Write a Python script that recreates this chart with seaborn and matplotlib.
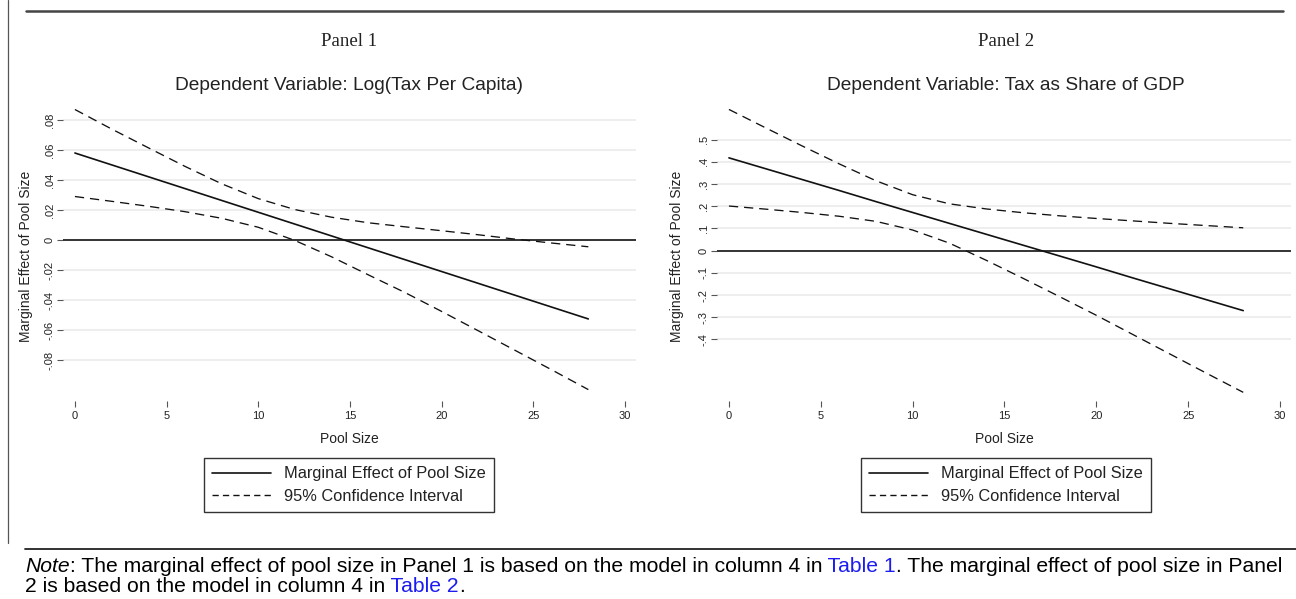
import numpy as np
import pandas as pd
import seaborn as sns
from matplotlib import pyplot as plt
from matplotlib.lines import Line2D

# values
pool_size = [0, 2, 4, 6, 8, 10, 12, 14, 16, 18, 20, 22, 24, 26, 28]

tax_pc_effect = [0.058, 0.0501, 0.0422, 0.0343, 0.0264, 0.0185, 0.0106, 0.0027,
                 -0.0052, -0.0131, -0.021, -0.0289, -0.0368, -0.0447, -0.0526]
tax_pc_upper = [0.087, 0.074, 0.0615, 0.0491, 0.0375, 0.0276, 0.0203, 0.0152,
                0.0115, 0.0088, 0.0062, 0.0035, 0.0006, -0.0020, -0.0045]
tax_pc_lower = [0.029, 0.0258, 0.0225, 0.0189, 0.0145, 0.0085, -0.0003, -0.0112,
                -0.0232, -0.0350, -0.0476, -0.0605, -0.0735, -0.0865, -0.0997]

tax_gdp_effect = [0.418, 0.369, 0.320, 0.271, 0.221, 0.172, 0.123, 0.074,
                  0.025, -0.024, -0.073, -0.123, -0.172, -0.221, -0.270]
tax_gdp_upper = [0.636, 0.553, 0.471, 0.391, 0.315, 0.252, 0.211, 0.188,
                 0.171, 0.157, 0.145, 0.134, 0.123, 0.113, 0.103]
tax_gdp_lower = [0.201, 0.187, 0.172, 0.155, 0.132, 0.093, 0.034, -0.043,
                 -0.124, -0.207, -0.291, -0.378, -0.465, -0.552, -0.638]

x_ticks = [0, 5, 10, 15, 20, 25, 30]
y_ticks_1 = [-0.08, -0.06, -0.04, -0.02, 0, 0.02, 0.04, 0.06, 0.08]
y_tick_labels_1 = ["-.08", "-.06", "-.04", "-.02", "0", ".02", ".04", ".06", ".08"]
y_ticks_2 = [-0.4, -0.3, -0.2, -0.1, 0, 0.1, 0.2, 0.3, 0.4, 0.5]
y_tick_labels_2 = ["-.4", "-.3", "-.2", "-.1", "0", ".1", ".2", ".3", ".4", ".5"]

panel_names = ["Panel 1", "Panel 2"]
dep_vars = ["Dependent Variable: Log(Tax Per Capita)",
            "Dependent Variable: Tax as Share of GDP"]

EFFECT = "Marginal Effect of Pool Size"
CI = "95% Confidence Interval"

W, H = 1296, 599


def long_frame(effect, upper, lower):
    parts = []
    for bound, vals, kind in [("effect", effect, EFFECT), ("upper", upper, CI), ("lower", lower, CI)]:
        parts.append(pd.DataFrame({"Pool Size": pool_size, "value": vals,
                                   "kind": kind, "bound": bound}))
    return pd.concat(parts, ignore_index=True)


sns.set_theme(style="white")
plt.rcParams["font.family"] = ["Liberation Sans", "DejaVu Sans"]

fig = plt.figure(figsize=(W / 100, H / 100), dpi=100)
fig.patch.set_facecolor("white")

panels = [
    dict(df=long_frame(tax_pc_effect, tax_pc_upper, tax_pc_lower), left=63, width=573,
         ylim=(-0.1073, 0.09), yticks=y_ticks_1, ylabels=y_tick_labels_1, cx=349, ylab_x=-0.064),
    dict(df=long_frame(tax_gdp_effect, tax_gdp_upper, tax_gdp_lower), left=717, width=574,
         ylim=(-0.677, 0.656), yticks=y_ticks_2, ylabels=y_tick_labels_2, cx=1006, ylab_x=-0.069),
]

ax_bottom, ax_top = 401, 105
dash_styles = {EFFECT: "", CI: (7, 4.5)}
line_widths = {EFFECT: 1.2, CI: 0.95}

for i, p in enumerate(panels):
    ax = fig.add_axes([p["left"] / W, 1 - ax_bottom / H, p["width"] / W, (ax_bottom - ax_top) / H])
    ax.set_facecolor("white")
    ax.grid(axis="y", color="#ebebeb", lw=1.2)
    ax.set_axisbelow(True)
    ax.axhline(0, color="#333333", lw=1.4, zorder=2)

    for kind in [EFFECT, CI]:
        sns.lineplot(data=p["df"][p["df"]["kind"] == kind], x="Pool Size", y="value",
                     style="kind", units="bound", estimator=None, color="#111111",
                     dashes={kind: dash_styles[kind]}, lw=line_widths[kind],
                     legend=False, ax=ax, zorder=3)

    ax.set_xlim(-0.65, 30.6)
    ax.set_ylim(*p["ylim"])
    for s in ax.spines.values():
        s.set_visible(False)

    ax.set_xticks(x_ticks)
    ax.set_xticklabels([str(t) for t in x_ticks])
    ax.set_yticks(p["yticks"])
    ax.set_yticklabels(p["ylabels"], rotation=90, va="center")
    ax.tick_params(axis="x", bottom=True, direction="out", length=4.5, width=0.8,
                   color="#555555", labelsize=8, labelcolor="#222222", pad=3)
    ax.tick_params(axis="y", left=True, direction="out", length=4, width=0.8,
                   color="#555555", labelsize=8, labelcolor="#222222", pad=2)

    ax.set_xlabel("Pool Size", fontsize=10, va="center", color="#222222")
    ax.xaxis.set_label_coords(0.5, (ax_bottom - 439) / (ax_bottom - ax_top))
    ax.set_ylabel(EFFECT, fontsize=10, va="center", color="#222222")
    ax.yaxis.set_label_coords(p["ylab_x"], 0.49)

    fig.text(p["cx"] / W, 1 - 42 / H, panel_names[i], family="Liberation Serif",
             fontsize=13.5, ha="center", va="center", color="#222222")
    fig.text(p["cx"] / W, 1 - 86 / H, dep_vars[i], fontsize=13.8,
             ha="center", va="center", color="#222222")

    handles = [Line2D([], [], color="#111111", lw=1.2),
               Line2D([], [], color="#111111", lw=1.0, dashes=(4.5, 3))]
    leg = ax.legend(handles, [EFFECT, CI], loc="center",
                    bbox_to_anchor=(p["cx"] / W, 1 - 485 / H), bbox_transform=fig.transFigure,
                    fontsize=11.8, frameon=True, fancybox=False, edgecolor="#333333",
                    framealpha=1, handlelength=3.6, handletextpad=0.8, borderpad=0.5,
                    labelspacing=0.45, borderaxespad=0)
    leg.get_frame().set_linewidth(1.0)
    for t in leg.get_texts():
        t.set_color("#222222")

# page rules around the figure
fig.add_artist(Line2D([26 / W, 1283 / W], [1 - 11 / H, 1 - 11 / H], color="#444444", lw=1.8))
fig.add_artist(Line2D([8 / W, 8 / W], [1, 1 - 543 / H], color="#555555", lw=0.9))
fig.add_artist(Line2D([25 / W, 1], [1 - 549 / H, 1 - 549 / H], color="#222222", lw=1.3))

# note underneath, with the table references in blue
note_lines = [
    (566, [("Note", "italic", "black"),
           (": The marginal effect of pool size in Panel 1 is based on the model in column 4 in", "normal", "black"),
           (" Table 1", "normal", "#1c1cf0"),
           (". The marginal effect of pool size in Panel", "normal", "black")]),
    (586, [("2 is based on the model in column 4 in", "normal", "black"),
           (" Table 2", "normal", "#1c1cf0"),
           (".", "normal", "black")]),
]
renderer = fig.canvas.get_renderer()
for y_px, pieces in note_lines:
    x = 25 / W
    for text, style, color in pieces:
        t = fig.text(x, 1 - y_px / H, text, fontsize=15.2, style=style, color=color,
                     ha="left", va="center")
        x = t.get_window_extent(renderer).x1 / W

fig.savefig("out.png", dpi=100)
